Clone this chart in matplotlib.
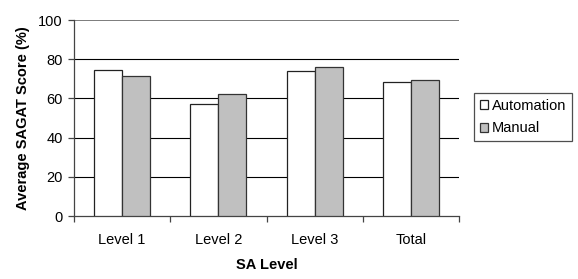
import matplotlib
matplotlib.use("Agg")
import matplotlib.pyplot as plt
import numpy as np

categories = ["Level 1", "Level 2", "Level 3", "Total"]
automation = [74.4, 56.9, 73.9, 68.3]
manual = [71.4, 62.5, 75.8, 69.5]
series_names = ["Automation", "Manual"]
yticks = [0, 20, 40, 60, 80, 100]

plt.rcParams['font.family'] = ['Liberation Sans', 'DejaVu Sans']

fig = plt.figure(figsize=(5.78, 2.79), dpi=100)
ax = fig.add_axes([74/578, 63/279, (459-74)/578, (216-20)/279])

x = np.arange(len(categories))
w = 0.29
ax.bar(x - w/2, automation, w, color="white", edgecolor="#222222", linewidth=0.9,
       label=series_names[0], zorder=3)
ax.bar(x + w/2, manual, w, color="#C0C0C0", edgecolor="#333333", linewidth=0.9,
       label=series_names[1], zorder=3)

ax.set_xlim(-0.5, len(categories) - 0.5)
ax.set_ylim(0, 100)
ax.set_yticks(yticks)
ax.set_xticks(np.arange(len(categories) + 1) - 0.5, minor=False)
ax.set_xticklabels([])
ax.set_xticks(x, minor=True)
ax.set_xticklabels(categories, minor=True)
ax.tick_params(axis='x', which='major', length=4, direction='out', color='#444444', width=0.9)
ax.tick_params(axis='x', which='minor', length=0, pad=12, labelsize=10.5)
ax.tick_params(axis='y', length=4, direction='out', color='#444444', width=0.9, pad=4, labelsize=10.5)

for yv in yticks[1:]:
    ax.axhline(yv, color="black" if yv < 100 else "#666666", linewidth=0.8 if yv < 100 else 1.2, zorder=1)

for s in ['top', 'right']:
    ax.spines[s].set_visible(False)
ax.spines['left'].set_color('#444444')
ax.spines['bottom'].set_color('#444444')
ax.spines['left'].set_linewidth(0.9)
ax.spines['bottom'].set_linewidth(0.9)

ax.set_ylabel("Average SAGAT Score (%)", fontsize=10.5, fontweight='bold', labelpad=6)
ax.set_xlabel("SA Level", fontsize=10.5, fontweight='bold', labelpad=8)

leg = fig.legend(loc='center left', bbox_to_anchor=(474/578, 1 - 117/279), fontsize=10.5,
                 frameon=True, fancybox=False, edgecolor='#222222', handlelength=0.55,
                 handleheight=0.55, handletextpad=0.3, borderpad=0.4, labelspacing=0.6,
                 borderaxespad=0)
leg.get_frame().set_linewidth(0.9)

fig.savefig("out.png", dpi=100)
